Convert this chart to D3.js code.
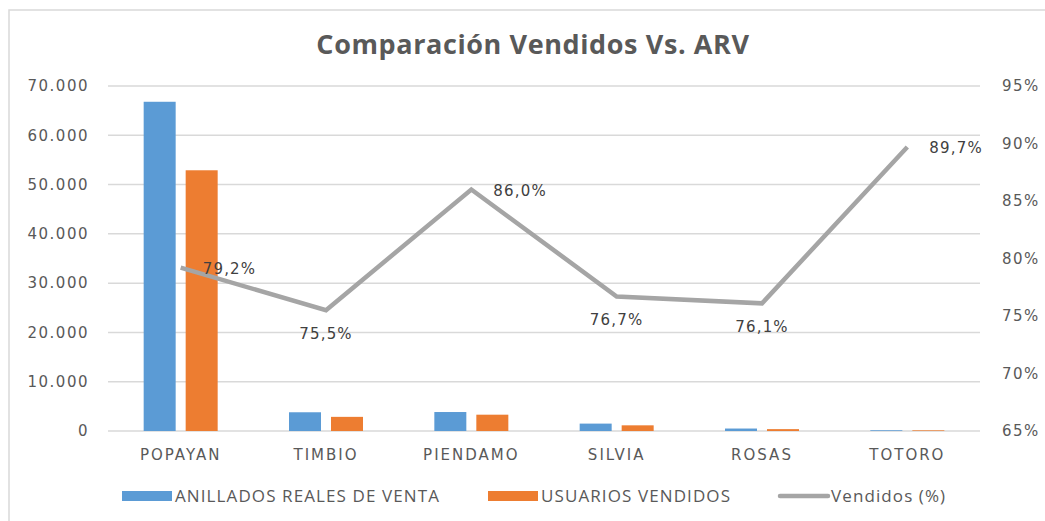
<!DOCTYPE html>
<html>
<head>
<meta charset="utf-8">
<script src="https://cdn.jsdelivr.net/npm/d3@7/dist/d3.min.js"></script>
<style>
    body { margin: 0; background: #fff; }
    .tick text { fill: #595959; font-family: "DejaVu Sans", Verdana, sans-serif; font-size: 15px; letter-spacing: 1.5px; }
    .cat .tick text { letter-spacing: 2px; }
    .grid line { stroke: #d9d9d9; stroke-width: 1.5; }
    .legend text { fill: #595959; font-family: "Open Sans", sans-serif; font-size: 17px; letter-spacing: 1.1px; }
</style>
</head>
<body>
<svg id="chart" width="1045" height="521"></svg>
<script>
var categories = ['POPAYAN', 'TIMBIO', 'PIENDAMO', 'SILVIA', 'ROSAS', 'TOTORO'];
var anillados = [66800, 3800, 3850, 1500, 500, 150];
var vendidos = [52900, 2870, 3310, 1150, 380, 135];
var pct = [79.2, 75.5, 86.0, 76.7, 76.1, 89.7];
var leftTicks = [0, 10000, 20000, 30000, 40000, 50000, 60000, 70000];
var rightTicks = [65, 70, 75, 80, 85, 90, 95];
var labelPlace = ['right', 'below', 'right', 'below', 'below', 'right'];

var colors = { blue: '#5b9bd5', orange: '#ed7d31', gray: '#a5a5a5' };

var svg = d3.select('#chart');

// frame
svg.append('rect')
    .attr('x', 9).attr('y', 10)
    .attr('width', 1100).attr('height', 600)
    .attr('fill', '#fff')
    .attr('stroke', '#d9d9d9')
    .attr('stroke-width', 1.5);

// title
svg.append('text')
    .attr('x', 533).attr('y', 54)
    .attr('text-anchor', 'middle')
    .attr('fill', '#595959')
    .style('font-family', '"Open Sans", sans-serif')
    .style('font-weight', 'bold')
    .style('font-size', '27px')
    .style('letter-spacing', '0.6px')
    .text('Comparación Vendidos Vs. ARV');

var x = d3.scaleBand().domain(categories).range([108, 980]);
var y = d3.scaleLinear().domain([0, 70000]).range([431, 86]);
var y2 = d3.scaleLinear().domain([65, 95]).range([431, 86]);

var barW = 32, barGap = 10;

// gridlines
svg.append('g')
    .attr('class', 'grid')
    .selectAll('line')
    .data(leftTicks)
  .enter().append('line')
    .attr('x1', 108).attr('x2', 980)
    .attr('y1', function(d) { return y(d); })
    .attr('y2', function(d) { return y(d); });

// left axis
var leftAxis = svg.append('g')
    .attr('transform', 'translate(97,0)')
    .call(d3.axisLeft(y).tickValues(leftTicks).tickSize(0).tickPadding(8)
        .tickFormat(function(d) { return d3.format(',')(d).replace(/,/g, '.'); }));
leftAxis.select('.domain').remove();

// right axis
var rightAxis = svg.append('g')
    .attr('transform', 'translate(994,0)')
    .call(d3.axisRight(y2).tickValues(rightTicks).tickSize(0).tickPadding(8)
        .tickFormat(function(d) { return d + '%'; }));
rightAxis.select('.domain').remove();

// category axis
var catAxis = svg.append('g')
    .attr('class', 'cat')
    .attr('transform', 'translate(0,441)')
    .call(d3.axisBottom(x).tickSize(0).tickPadding(8));
catAxis.select('.domain').remove();

// bars
var groups = svg.append('g').selectAll('g')
    .data(categories)
  .enter().append('g')
    .attr('transform', function(d) { return 'translate(' + (x(d) + x.bandwidth() / 2) + ',0)'; });

groups.append('rect')
    .attr('x', -barW - barGap / 2)
    .attr('width', barW)
    .attr('y', function(d, i) { return y(anillados[i]); })
    .attr('height', function(d, i) { return y(0) - y(anillados[i]); })
    .attr('fill', colors.blue);

groups.append('rect')
    .attr('x', barGap / 2)
    .attr('width', barW)
    .attr('y', function(d, i) { return y(vendidos[i]); })
    .attr('height', function(d, i) { return y(0) - y(vendidos[i]); })
    .attr('fill', colors.orange);

// percent line
var line = d3.line()
    .x(function(d, i) { return x(categories[i]) + x.bandwidth() / 2; })
    .y(function(d) { return y2(d); });

svg.append('path')
    .datum(pct)
    .attr('d', line)
    .attr('fill', 'none')
    .attr('stroke', colors.gray)
    .attr('stroke-width', 4.5)
    .attr('stroke-linejoin', 'miter');

// data labels
svg.append('g').selectAll('text')
    .data(pct)
  .enter().append('text')
    .attr('x', function(d, i) {
        var cx = x(categories[i]) + x.bandwidth() / 2;
        return labelPlace[i] == 'right' ? cx + 22 : cx;
    })
    .attr('y', function(d, i) { return labelPlace[i] == 'right' ? y2(d) + 6 : y2(d) + 29; })
    .attr('text-anchor', function(d, i) { return labelPlace[i] == 'right' ? 'start' : 'middle'; })
    .attr('fill', '#404040')
    .style('font-family', '"DejaVu Sans", Verdana, sans-serif')
    .style('font-size', '15px')
    .style('letter-spacing', '1.2px')
    .text(function(d) { return d.toFixed(1).replace('.', ',') + '%'; });

// legend
var legendItems = [
    { label: 'ANILLADOS REALES DE VENTA', color: colors.blue, type: 'rect', x: 122 },
    { label: 'USUARIOS VENDIDOS', color: colors.orange, type: 'rect', x: 488 },
    { label: 'Vendidos (%)', color: colors.gray, type: 'line', x: 778 }
];
var legend = svg.append('g').attr('class', 'legend')
    .selectAll('g')
    .data(legendItems)
  .enter().append('g')
    .attr('transform', function(d) { return 'translate(' + d.x + ',496)'; });

legend.filter(function(d) { return d.type == 'rect'; })
    .append('rect')
    .attr('x', 0).attr('y', -5)
    .attr('width', 50).attr('height', 10)
    .attr('fill', function(d) { return d.color; });

legend.filter(function(d) { return d.type == 'line'; })
    .append('line')
    .attr('x1', 2).attr('x2', 50)
    .attr('y1', 0).attr('y2', 0)
    .attr('stroke', function(d) { return d.color; })
    .attr('stroke-width', 4.5)
    .attr('stroke-linecap', 'round');

legend.append('text')
    .attr('x', 53).attr('y', 6)
    .text(function(d) { return d.label; });
</script>
</body>
</html>
